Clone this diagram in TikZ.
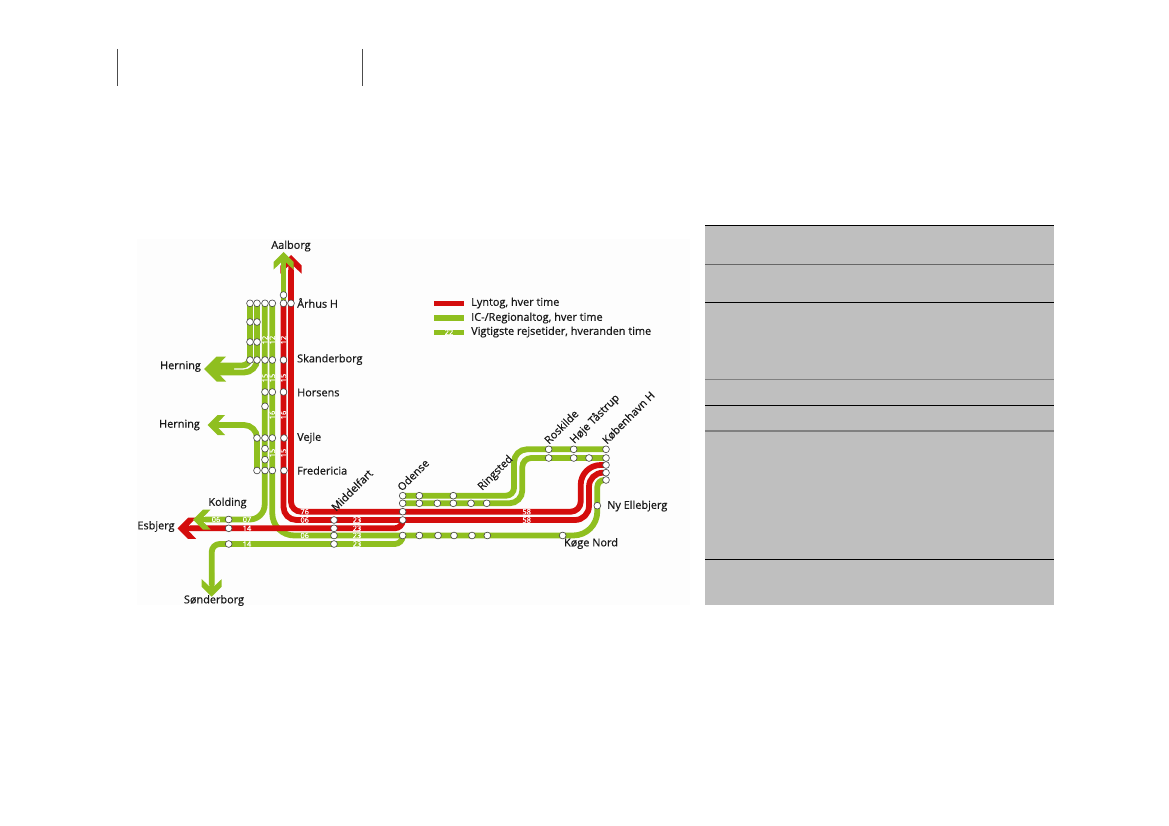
\documentclass[tikz,border=0pt]{standalone}
\usepackage{fontspec}
\setmainfont{Open Sans}[FakeBold=0.6]
\definecolor{rd}{HTML}{D40D0D}
\definecolor{gr}{HTML}{8FBF1F}
\definecolor{tbl}{HTML}{BFBFBF}
\definecolor{mapbg}{HTML}{FDFDFD}
\tikzset{
 redt/.style={line width=5.8pt,draw=rd},
 grnt/.style={line width=5.8pt,draw=gr},
 stn/.style={circle,draw=black!75,fill=white,line width=.6pt,minimum size=6.8pt,inner sep=0pt},
 lab/.style={font=\fontsize{10.9}{12}\selectfont,text=black!90,inner sep=0pt},
 num/.style={font=\fontsize{7.4}{8}\selectfont,text=white,inner sep=0pt},
 vnum/.style={num,rotate=90},
 legt/.style={lab,anchor=west},
 rule/.style={line width=#1},
}
\newcommand{\chev}[5]{% colour, tip x,y, rotation, scale
 \fill[#1,shift={(#2,#3)},rotate=#4,scale=#5] (0,0)--(12.5,-12.5)--(22,-12.5)--(13,-3)--(30,-3)--(30,3)--(13,3)--(22,12.5)--(12.5,12.5)--cycle;}
\begin{document}
\begin{tikzpicture}[x=1pt,y=-1pt]
\useasboundingbox (0,0) rectangle (1169,826);
\fill[white] (0,0) rectangle (1169,826);
\draw[line width=1.1pt,black!70] (117.5,49)--(117.5,86) (362.5,49)--(362.5,86);
\fill[mapbg] (137,239) rectangle (690,605);
% table
\fill[tbl] (705,225.5) rectangle (1053.5,604.5);
\draw[rule=1pt,black] (705,225.5)--(1053.5,225.5);
\draw[rule=1pt,black!60] (705,264.3)--(1053.5,264.3);
\draw[rule=1pt,black] (705,302.3)--(1053.5,302.3);
\draw[rule=1.2pt,black!50] (705,379.7)--(1053.5,379.7);
\draw[rule=1pt,black] (705,405.3)--(1053.5,405.3);
\draw[rule=1.2pt,black!50] (705,431)--(1053.5,431);
\draw[rule=1.5pt,black] (705,559.3)--(1053.5,559.3);
% red arrow to Aalborg, behind green
\chev{rd}{291}{255}{-90}{.85}
\draw[redt] (291,270) [rounded corners=10pt]--(291,511.7)--(500,511.7) [rounded corners=10pt]--(580.7,511.7) [rounded corners=20pt]--(580.7,465)--(606,465);
\draw[redt] (283.5,303) [rounded corners=13pt]--(283.5,520)--(500,520) [rounded corners=14pt]--(589,520)--(589,472.7)--(606,472.7);
% green
\draw[grnt] (283.5,303)--(283.5,265);
\chev{gr}{283.5}{252}{-90}{.8}
\draw[grnt] (250,303) [rounded corners=8pt]--(250,365.5)--(215,365.5);
\draw[grnt] (257,303) [rounded corners=13pt]--(257,372.5)--(215,372.5);
\chev{gr}{204}{369}{0}{1}
\draw[grnt] (257,470.5) [rounded corners=13pt]--(257,425)--(218,425);
\chev{gr}{207.5}{425}{0}{.8}
\draw[grnt] (272.3,303) [rounded corners=22pt]--(272.3,535.5)--(450,535.5) [rounded corners=24pt]--(597.3,535.5) [rounded corners=7pt]--(597.3,480)--(606,480);
\draw[grnt] (402.7,495.7) [rounded corners=8pt]--(514,495.7) [rounded corners=13pt]--(514,449.3)--(606,449.3);
\draw[grnt] (402.7,503.3) [rounded corners=13pt]--(522.3,503.3) [rounded corners=9pt]--(522.3,458)--(606,458);
\draw[grnt] (211.7,585) [rounded corners=8pt]--(211.7,544)--(300,544)--(402.7,544)--(402.7,535.5);
\chev{gr}{211.7}{596.7}{90}{.8}
% red to Esbjerg over the green
\chev{rd}{177.5}{528.3}{0}{.85}
\draw[redt] (190,528.3) [rounded corners=8pt]--(402.7,528.3)--(402.7,520);
\draw[grnt] (264.7,303) [rounded corners=15pt]--(264.7,519.5)--(205,519.5);
\chev{gr}{193}{519.5}{0}{.8}
% legend
\fill[rd] (434,300.5) rectangle (464,306);
\fill[gr] (434,315) rectangle (464,320.5);
\fill[gr] (434,329.5) rectangle (464,335);
\node[num] (n22) at (449,332.2) {22};
\node[legt] (l1) at (471,303) {Lyntog, hver time};
\node[legt] (l2) at (471,318) {IC-/Regionaltog, hver time};
\node[legt] (l3) at (471,332) {Vigtigste rejsetider, hveranden time};
% numbers
\foreach \x/\y/\t in {265/340/12,272.3/340/12,283.5/340/12,265/378/15,272.3/378/15,283.5/378/15,272.3/415/16,283.5/415/16,272.3/453/15,283.5/453/15}
  \node[vnum] at (\x,\y) {\t};
\foreach \x/\y/\t in {304.7/511.7/76,304.7/520/06,357/520/23,247/528.3/14,357/528.3/23,304.7/535.5/06,357/535.5/23,247/544/14,357/544/23,216/519.5/06,247/519.5/07,526.7/511.7/58,526.7/520/58}
  \node[num] at (\x,\y) {\t};
% stations
\foreach \x/\y in {283.5/295,250/303.3,257/303.3,265/303.3,272.3/303.3,283.5/303.3,291/303.3,250/322,257/322,250/342,257/342,250/360,257/360,265/360,272.3/360,283.5/360,265/392,272.3/392,283.5/392,265/406.3,257/438,265/438,272.3/438,284/438,265/448.7,265/459.7,257/470.5,265/470.5,272.3/470.5,284/470.5,
228.7/519.5,228.7/528.3,228.7/544,334/520,334/528.3,334/535.5,334/544,402.7/495.7,402.7/503.3,402.7/511.7,402.7/520,402.7/535.5,419.3/495.7,453.3/495.7,419.3/503.3,437.3/503.3,453.3/503.3,471/503.3,486.7/503.3,419.3/535.5,438/535.5,454/535.5,472/535.5,487.3/535.5,562.7/535.5,597.3/505.7,548.7/449.3,573.7/449.3,606/449.3,548.7/458,573.7/458,589/458,606/458,606/465,606/472.7,606/480}
  \node[stn] at (\x,\y) {};
% labels
\node[lab] (aal) at (291,246) {Aalborg};
\node[lab,anchor=west] (aar) at (297,303) {Århus H};
\node[lab,anchor=west] (ska) at (297,359.5) {Skanderborg};
\node[lab,anchor=west] (hor) at (297,392.5) {Horsens};
\node[lab,anchor=west] (vej) at (297,438) {Vejle};
\node[lab,anchor=west] (fre) at (297,470.5) {Fredericia};
\node[lab] (her1) at (180.5,366.5) {Herning};
\node[lab] (her2) at (179.5,425) {Herning};
\node[lab] (kol) at (227.5,503) {Kolding};
\node[lab] (esb) at (156,526.5) {Esbjerg};
\node[lab] (son) at (214,600.5) {Sønderborg};
\node[lab,anchor=west] (nye) at (607,506) {Ny Ellebjerg};
\node[lab] (kog) at (591,543.5) {Køge Nord};
\node[lab,rotate=45,anchor=west] (mid) at (333,509) {Middelfart};
\node[lab,rotate=45,anchor=west] (ode) at (399,489) {Odense};
\node[lab,rotate=45,anchor=west] (rin) at (480,489) {Ringsted};
\node[lab,rotate=45,anchor=west] (ros) at (546,442) {Roskilde};
\node[lab,rotate=45,anchor=west] (hoj) at (572,442) {Høje Tåstrup};
\node[lab,rotate=45,anchor=west] (kob) at (604,442) {København H};
\end{tikzpicture}
\end{document}
